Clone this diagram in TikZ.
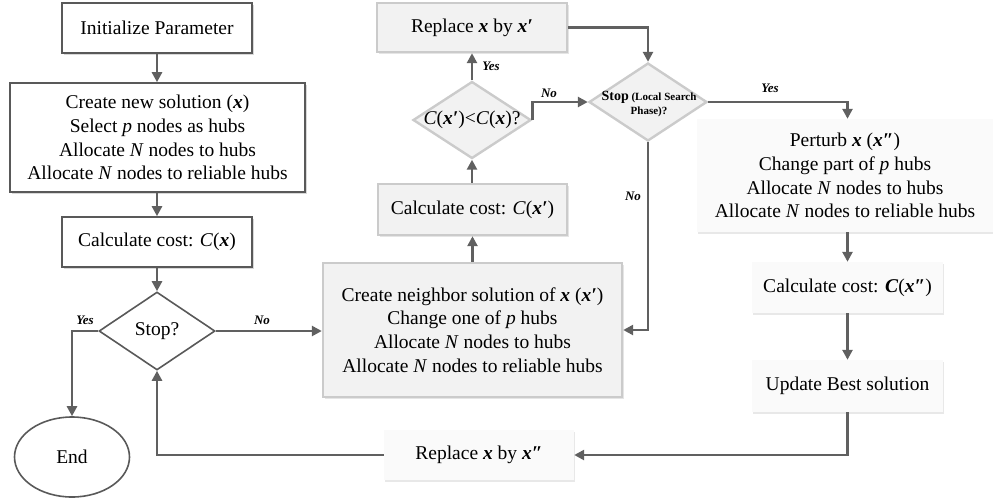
\documentclass[tikz,border=0pt]{standalone}
\usepackage{fontspec}
\setmainfont{Liberation Serif}
\usetikzlibrary{arrows.meta,shapes.geometric,shadows}

\definecolor{arrowgray}{HTML}{606060}
\definecolor{darkedge}{HTML}{595959}
\definecolor{lightedge}{HTML}{CBCBCB}
\definecolor{lightfill}{HTML}{F2F2F2}
\definecolor{paperfill}{HTML}{FAFAFA}

% bold italic solution vectors
\newcommand{\vx}{\textbf{\textit{x}}}
\newcommand{\vxp}{\textbf{\textit{x\char"2032}}}
\newcommand{\vxpp}{\textbf{\textit{x\char"2033}}}

\begin{document}
\begin{tikzpicture}[x=1pt,y=-1pt,
  font=\fontsize{19.5}{23.7}\selectfont,
  plainbox/.style={draw=darkedge, line width=1.6pt, fill=white, inner sep=0pt, align=center,
    drop shadow={shadow xshift=1.5pt, shadow yshift=-1.5pt, fill=black!30, opacity=0.5}},
  greybox/.style={draw=lightedge, line width=2.4pt, fill=lightfill, inner sep=0pt, align=center,
    drop shadow={shadow xshift=1.5pt, shadow yshift=-1.5pt, fill=black!20, opacity=0.5}},
  softbox/.style={fill=paperfill, inner sep=0pt, align=center,
    drop shadow={shadow xshift=1.2pt, shadow yshift=-2pt, fill=black!15, opacity=0.6}},
  plaindia/.style={diamond, draw=darkedge, line width=1.6pt, fill=white, inner sep=0pt},
  greydia/.style={diamond, draw=lightedge, line width=2.4pt, fill=lightfill, inner sep=0pt},
  flow/.style={draw=arrowgray, line width=2.8pt, -{Triangle[length=10pt,width=10pt]}},
  lab/.style={font=\fontsize{13}{13}\selectfont\bfseries\itshape}
]
\useasboundingbox (0,0) rectangle (993,499);

% left column
\node[plainbox, minimum width=190pt, minimum height=50pt] (init) at (157,28) {Initialize Parameter};
\node[plainbox, minimum width=295pt, minimum height=109pt] (create) at (157.5,137.5)
  {Create new solution (\vx)\\Select \textit{p} nodes as hubs\\Allocate \textit{N} nodes to hubs\\Allocate \textit{N} nodes to reliable hubs};
\node[plainbox, minimum width=190pt, minimum height=50pt] (calc) at (157,242) {Calculate cost: \textit{C}(\vx)};
\node[plaindia, minimum width=116pt, minimum height=78pt] (stop) at (157,331) {};
\node (stoptext) at (stop) {Stop?};
\node[ellipse, draw=darkedge, line width=1.6pt, fill=white, minimum width=115pt, minimum height=80pt, inner sep=0pt] (end) at (72,457) {End};

% local search column
\node[greybox, minimum width=190pt, minimum height=49pt] (repx) at (472,27.5) {Replace \vx{} by \vxp};
\node[greydia, minimum width=118pt, minimum height=77pt] (cmp) at (472,120) {};
\node (cmptext) at (cmp) {\textit{C}(\vxp)<\textit{C}(\vx)?};
\node[greybox, minimum width=189pt, minimum height=51pt] (calcn) at (472.5,209.5) {Calculate cost: \textit{C}(\vxp)};
\node[greybox, minimum width=299pt, minimum height=134pt] (neigh) at (472.5,330)
  {Create neighbor solution of \vx{} (\vxp)\\Change one of \textit{p} hubs\\Allocate \textit{N} nodes to hubs\\Allocate \textit{N} nodes to reliable hubs};
\node[greydia, minimum width=118pt, minimum height=78pt] (lstop) at (648,102) {};
\node[align=center, font=\fontsize{11}{13.5}\selectfont\bfseries] (lstoptext) at (649,104)
  {{\fontsize{14}{13.5}\selectfont Stop} (Local Search\\Phase)?};

% perturbation column
\node[softbox, minimum width=296pt, minimum height=113pt] (pert) at (845,175.5)
  {Perturb \vx{} (\vxpp)\\Change part of \textit{p} hubs\\Allocate \textit{N} nodes to hubs\\Allocate \textit{N} nodes to reliable hubs};
\node[softbox, minimum width=191pt, minimum height=51pt] (calcp) at (847.5,287.5) {Calculate cost: \textbf{\textit{C}}(\vxpp)};
\node[softbox, minimum width=191pt, minimum height=52pt] (upd) at (847.5,386) {Update Best solution};
\node[softbox, minimum width=190pt, minimum height=50pt] (repxx) at (479,455) {Replace \vx{} by \vxpp};

% connectors
\draw[flow] (init.south) -- (init.south |- create.north);
\draw[flow] (create.south -| calc.north) -- (calc.north);
\draw[flow] (calc.south) -- (stop.north);
\draw[flow] (stop.west) -| (end.north);
\draw[flow] (stop.east) -- (stop.east -| neigh.west);
\draw[flow] (neigh.north) -- (calcn.south);
\draw[flow] (cmp.south |- calcn.north) -- (cmp.south);
\draw[flow] (cmp.north) -- (repx.south);
\draw[flow] (cmp.east) |- (lstop.west);
\draw[flow] (repx.east) -| (lstop.north);
\draw[flow] (lstop.south) |- (neigh.east);
\draw[flow] (lstop.east) -| (calcp.north |- pert.north);
\draw[flow] (calcp.north |- pert.south) -- (calcp.north);
\draw[flow] (calcp.south) -- (upd.north);
\draw[flow] (upd.south) |- (repxx.east);
\draw[flow] (repxx.west) -| (stop.south);

% branch labels
\node[lab] (lyes1) at (85,320) {Yes};
\node[lab] (lno1) at (262,320) {No};
\node[lab] (lyes2) at (491,66) {Yes};
\node[lab] (lno2) at (549,93) {No};
\node[lab] (lno3) at (633,196) {No};
\node[lab] (lyes3) at (770,88) {Yes};
\end{tikzpicture}
\end{document}
